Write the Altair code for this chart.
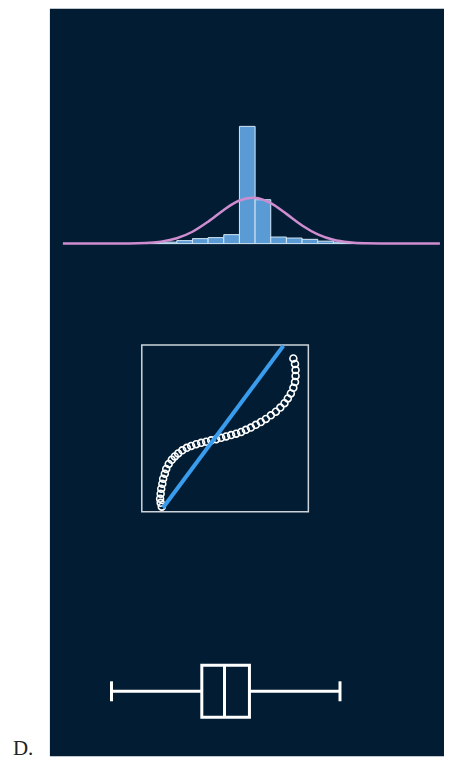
import altair as alt
import pandas as pd

NAVY = "#021d33"

# ---- histogram (bin left edges in bin units, heights in count units) ----
bin_start = [-6, -5, -4, -3, -2, -1, 0, 1, 2, 3, 4, 5, 6, 7]
bin_count = [1.0, 1.5, 3.0, 5.0, 6.0, 9.0, 117.5, 44.0, 6.6, 5.6, 4.3, 2.5, 1.5, 0.8]

# fitted normal curve
curve_x = [-11.27, -8, -6, -5, -4, -3, -2, -1, -0.5, 0, 0.83, 1.5, 2, 3, 4, 5, 6, 7, 8, 10, 12.8]
curve_y = [0, 0, 0.6, 2.0, 5.4, 11.9, 22.0, 33.8, 39.1, 43.2, 46.0, 44.1, 40.6, 29.8, 18.2, 9.3, 3.9, 1.4, 0.4, 0, 0]

# ---- Q-Q plot ----
qq_theoretical = [-2.28, -2.32, -2.34, -2.32, -2.30, -2.26, -2.23, -2.17, -2.12, -2.03, -1.92,
                  -1.81, -1.69, -1.54, -1.38, -1.22, -1.04, -0.86, -0.68, -0.50, -0.32, -0.14,
                  0.04, 0.22, 0.40, 0.58, 0.75, 0.93, 1.11, 1.29, 1.47, 1.65, 1.83, 1.99, 2.14,
                  2.26, 2.37, 2.46, 2.52, 2.54, 2.54, 2.52, 2.46]
qq_sample = [-2.82, -2.68, -2.53, -2.35, -2.17, -1.99, -1.81, -1.63, -1.46, -1.28, -1.13,
             -1.01, -0.90, -0.79, -0.70, -0.63, -0.57, -0.52, -0.48, -0.43, -0.39, -0.34,
             -0.29, -0.24, -0.19, -0.13, -0.05, 0.03, 0.13, 0.23, 0.34, 0.47, 0.60, 0.75, 0.91,
             1.08, 1.26, 1.46, 1.67, 1.89, 2.10, 2.32, 2.52]
ref_x = [-2.235, 2.10]
ref_y = [-2.856, 2.975]
frame_lo = [-3]
frame_hi = [3]

# ---- box plot: min, q1, median, q3, max ----
box_values = [-4.53, -0.91, 0.0, 1.0, 4.63]

label_text = ["D."]

W, H = 395, 749

# ---------------- histogram ----------------
hist_df = pd.DataFrame({"start": bin_start,
                        "end": [b + 1 for b in bin_start],
                        "count": bin_count,
                        "base": [0] * len(bin_start)})
curve_df = pd.DataFrame({"x": curve_x, "y": curve_y})

xs_h = alt.Scale(domain=[-12.1, 13.06], nice=False, zero=False)
ys_h = alt.Scale(domain=[-513.7, 235.3], nice=False, zero=False)

bars = alt.Chart(hist_df).mark_bar(
    fill="#5b9bd5", stroke="#d4e8f7", strokeWidth=1
).encode(
    x=alt.X("start:Q", scale=xs_h, axis=None),
    x2="end:Q",
    y=alt.Y("count:Q", scale=ys_h, axis=None),
    y2="base:Q",
)
curve = alt.Chart(curve_df).mark_line(
    color="#cf8dd0", strokeWidth=2.5, interpolate="monotone"
).encode(
    x=alt.X("x:Q", scale=xs_h, axis=None),
    y=alt.Y("y:Q", scale=ys_h, axis=None),
)

# ---------------- Q-Q ----------------
xs_q = alt.Scale(domain=[-6.31, 7.887], nice=False, zero=False)
ys_q = alt.Scale(domain=[-11.803, 15.109], nice=False, zero=False)

frame_df = pd.DataFrame({"x0": frame_lo, "x1": frame_hi, "y0": frame_lo, "y1": frame_hi})
frame = alt.Chart(frame_df).mark_rect(
    fillOpacity=0, stroke="#cdd3da", strokeWidth=1.5
).encode(
    x=alt.X("x0:Q", scale=xs_q, axis=None), x2="x1:Q",
    y=alt.Y("y0:Q", scale=ys_q, axis=None), y2="y1:Q",
)
pts_df = pd.DataFrame({"t": qq_theoretical, "s": qq_sample})
pts = alt.Chart(pts_df).mark_point(
    shape="circle", filled=False, color="white", size=48, strokeWidth=1.6, opacity=1
).encode(
    x=alt.X("t:Q", scale=xs_q, axis=None),
    y=alt.Y("s:Q", scale=ys_q, axis=None),
)
ref_df = pd.DataFrame({"x": ref_x, "y": ref_y})
ref = alt.Chart(ref_df).mark_line(color="#3a9cec", strokeWidth=4).encode(
    x=alt.X("x:Q", scale=xs_q, axis=None),
    y=alt.Y("y:Q", scale=ys_q, axis=None),
)

# ---------------- box plot ----------------
box_df = pd.DataFrame({"v": box_values, "g": ["a"] * len(box_values)})
box = alt.Chart(box_df).mark_boxplot(
    extent="min-max",
    size=52,
    box={"fill": NAVY, "stroke": "white", "strokeWidth": 3},
    median={"color": "white", "thickness": 3, "opacity": 1},
    rule={"color": "white", "strokeWidth": 3},
    ticks={"color": "white", "size": 20, "thickness": 3, "opacity": 1},
).encode(
    x=alt.X("v:Q", scale=alt.Scale(domain=[-7, 8.8], nice=False, zero=False), axis=None),
    y=alt.Y("g:N", scale=alt.Scale(paddingInner=0, paddingOuter=0, range=[632, 736]), axis=None),
)

right = alt.layer(
    bars, curve, frame, pts, ref, box
).resolve_scale(x="independent", y="independent").properties(
    width=W, height=H, view=alt.ViewBackground(fill=NAVY, strokeWidth=0)
)

# ---------------- label ----------------
lab = alt.Chart(pd.DataFrame({"t": label_text})).mark_text(
    font="Liberation Serif", fontSize=21, align="left", baseline="alphabetic", color="#222222"
).encode(
    text="t:N", x=alt.value(5), y=alt.value(748)
).properties(width=42, height=H, view=alt.ViewBackground(fill="white", strokeWidth=0))

chart = alt.hconcat(lab, right, spacing=0).properties(
    padding=0, background="white"
).configure_view(strokeWidth=0)

chart.save("out.html", embed_options={"renderer": "svg", "actions": False})
